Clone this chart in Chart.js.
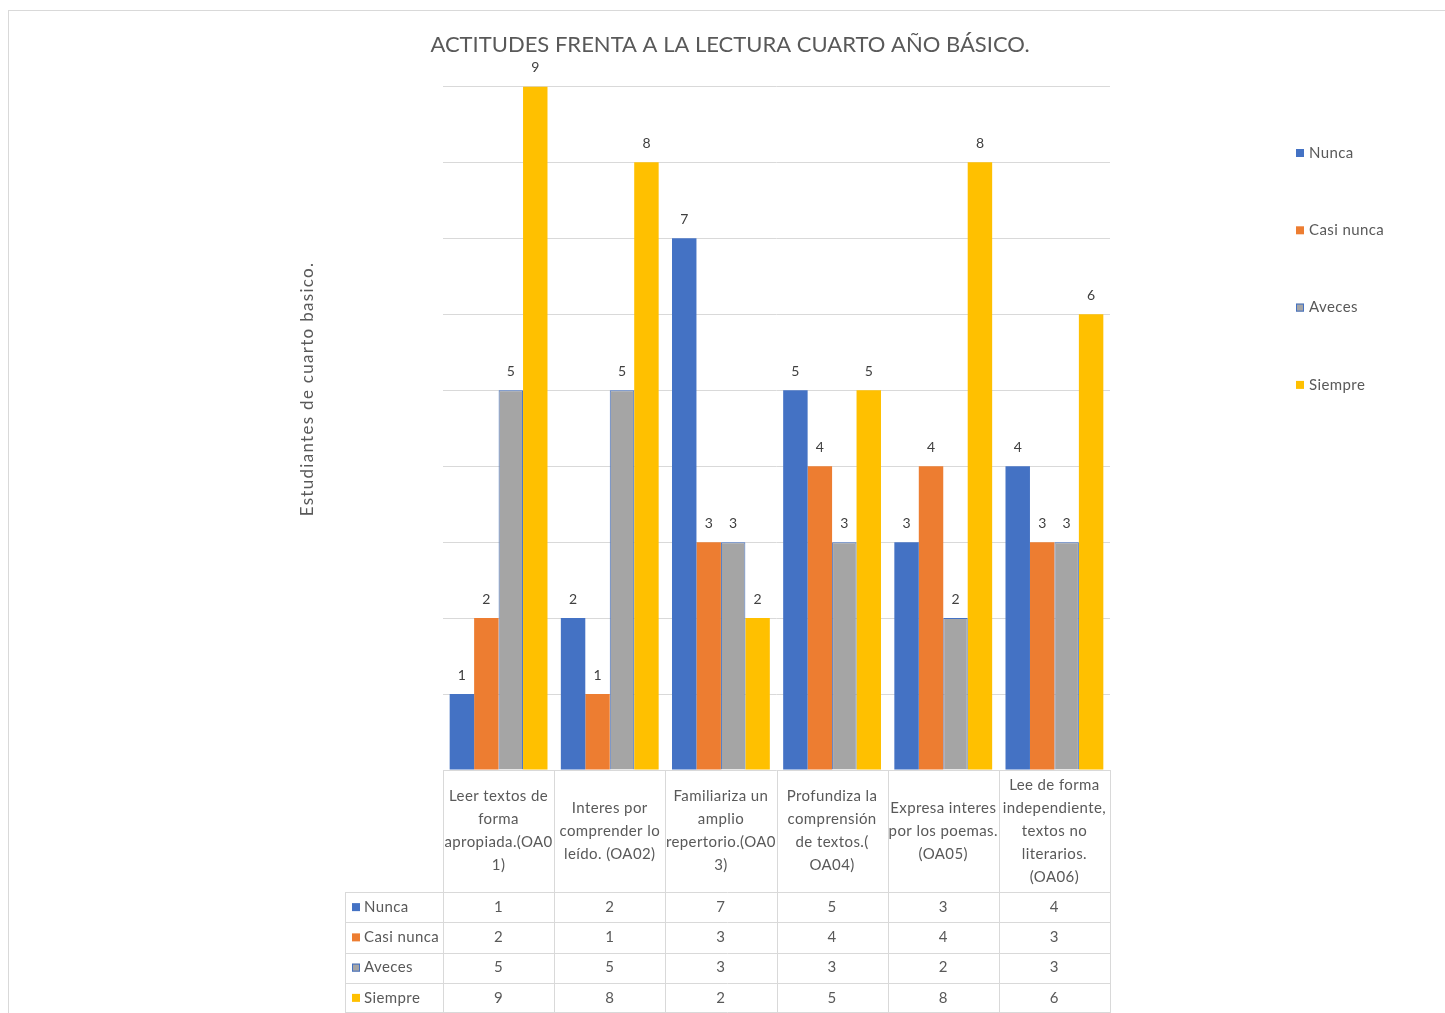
<!DOCTYPE html>
<html>
<head>
<meta charset="utf-8">
<script src="https://cdn.jsdelivr.net/npm/chart.js@4/dist/chart.umd.min.js"></script>
<style>
  html, body { margin: 0; padding: 0; background: #fff; }
  canvas { display: block; }
</style>
</head>
<body>
<canvas id="actitudesChart" width="1445" height="1013"></canvas>
<script>
// categories, wrapped the way the original table shows them
var categories = [
    ['Leer textos de', 'forma', 'apropiada.(OA0', '1)'],
    ['Interes por', 'comprender lo', 'leído. (OA02)'],
    ['Familiariza un', 'amplio', 'repertorio.(OA0', '3)'],
    ['Profundiza la', 'comprensión', 'de textos.(', 'OA04)'],
    ['Expresa interes', 'por los poemas.', '(OA05)'],
    ['Lee de forma', 'independiente,', 'textos no', 'literarios.', '(OA06)']
];
var seriesNames = ['Nunca', 'Casi nunca', 'Aveces', 'Siempre'];
var nunca = [1, 2, 7, 5, 3, 4];
var casiNunca = [2, 1, 3, 4, 4, 3];
var aveces = [5, 5, 3, 3, 2, 3];
var siempre = [9, 8, 2, 5, 8, 6];
var yMax = 9;

var colors = ['#4472C4', '#ED7D31', '#A5A5A5', '#FFC000'];
var seriesData = [nunca, casiNunca, aveces, siempre];
var font = 'Lato, "Open Sans", sans-serif';
var textColor = '#595959';

function drawSwatch(c, i, x, y) {
    c.fillStyle = colors[i];
    c.fillRect(x, y - 4, 8, 8);
    if (i === 2) {
        c.strokeStyle = '#4472C4';
        c.lineWidth = 1;
        c.strokeRect(x + 0.5, y - 3.5, 7, 7);
    }
}

var extras = {
    id: 'extras',
    beforeDraw: function (chart) {
        var c = chart.ctx;
        c.save();
        c.fillStyle = '#fff';
        c.fillRect(0, 0, chart.width, chart.height);
        c.strokeStyle = '#d9d9d9';
        c.lineWidth = 1;
        c.strokeRect(8.5, 10.5, chart.width, chart.height);
        c.restore();
    },
    afterDatasetsDraw: function (chart) {
        var c = chart.ctx;
        c.save();
        c.font = '14px ' + font;
        c.fillStyle = '#404040';
        c.textAlign = 'center';
        c.textBaseline = 'bottom';
        chart.data.datasets.forEach(function (ds, di) {
            chart.getDatasetMeta(di).data.forEach(function (bar, i) {
                c.fillText(ds.data[i], bar.x, bar.y - 12);
            });
        });
        c.restore();
    },
    afterDraw: function (chart) {
        var c = chart.ctx;
        var xs = chart.scales.x;
        var top = chart.chartArea.bottom;
        var colW = (xs.right - xs.left) / categories.length;
        var headBottom = top + 122;
        var rowH = (chart.height - headBottom) / seriesNames.length;
        var labelLeft = 345;
        c.save();

        // table grid
        c.strokeStyle = '#d9d9d9';
        c.lineWidth = 1;
        c.beginPath();
        for (var k = 0; k <= categories.length; k++) {
            var gx = Math.round(xs.left + k * colW) + 0.5;
            c.moveTo(gx, top);
            c.lineTo(gx, chart.height);
        }
        c.moveTo(labelLeft + 0.5, headBottom);
        c.lineTo(labelLeft + 0.5, chart.height);
        for (var r = 0; r <= seriesNames.length; r++) {
            var gy = Math.round(headBottom + r * rowH) + 0.5;
            if (r === seriesNames.length) gy = chart.height - 0.5;
            c.moveTo(labelLeft, gy);
            c.lineTo(xs.right, gy);
        }
        c.stroke();

        // header cells
        c.font = '15px ' + font;
        c.letterSpacing = '0.4px';
        c.fillStyle = textColor;
        c.textAlign = 'center';
        c.textBaseline = 'middle';
        var lh = 23;
        categories.forEach(function (lines, i) {
            var cx = xs.getPixelForValue(i);
            var y0 = (top + headBottom) / 2 - (lines.length - 1) * lh / 2;
            lines.forEach(function (t, j) {
                c.fillText(t, cx, y0 + j * lh);
            });
        });

        // value rows
        seriesNames.forEach(function (name, r) {
            var cy = headBottom + r * rowH + rowH / 2;
            drawSwatch(c, r, labelLeft + 7, cy);
            c.fillStyle = textColor;
            c.textAlign = 'left';
            c.fillText(name, labelLeft + 19, cy);
            c.textAlign = 'center';
            seriesData[r].forEach(function (v, i) {
                c.fillText(v, xs.getPixelForValue(i), cy);
            });
        });

        // legend on the right
        seriesNames.forEach(function (name, r) {
            var ly = 153 + r * 77.3;
            drawSwatch(c, r, 1296, ly);
            c.fillStyle = textColor;
            c.textAlign = 'left';
            c.fillText(name, 1309, ly);
        });

        // y axis title
        c.font = '17px ' + font;
        c.letterSpacing = '1.3px';
        c.translate(308, 389);
        c.rotate(-Math.PI / 2);
        c.textAlign = 'center';
        c.fillText('Estudiantes de cuarto basico.', 0, 0);
        c.restore();
    }
};

var ctx = document.getElementById('actitudesChart').getContext('2d');
var actitudes_chart = new Chart(ctx, {
    type: 'bar',
    data: {
        labels: categories,
        datasets: seriesNames.map(function (name, i) {
            return {
                label: name,
                data: seriesData[i],
                backgroundColor: colors[i],
                borderColor: i === 2 ? '#4472C4' : colors[i],
                borderWidth: i === 2 ? 1 : 0,
                categoryPercentage: 0.88,
                barPercentage: 1.0
            };
        })
    },
    options: {
        responsive: false,
        devicePixelRatio: 1,
        animation: false,
        layout: {
            padding: { left: 20, right: 5, top: 0, bottom: 243 }
        },
        plugins: {
            legend: { display: false },
            tooltip: { enabled: false },
            title: {
                display: true,
                text: 'ACTITUDES FRENTA A LA LECTURA CUARTO AÑO BÁSICO.',
                color: textColor,
                font: { family: font, size: 22, weight: 'normal' },
                padding: { top: 32, bottom: 28 }
            }
        },
        scales: {
            x: { display: false },
            y: {
                min: 0,
                max: yMax,
                ticks: { display: false, stepSize: 1 },
                grid: { color: '#d9d9d9', drawTicks: false },
                border: { display: false },
                afterFit: function (s) { s.width = 423; }
            },
            y2: {
                position: 'right',
                ticks: { display: false },
                grid: { display: false },
                border: { display: false },
                afterFit: function (s) { s.width = 330; }
            }
        }
    },
    plugins: [extras]
});
</script>
</body>
</html>
